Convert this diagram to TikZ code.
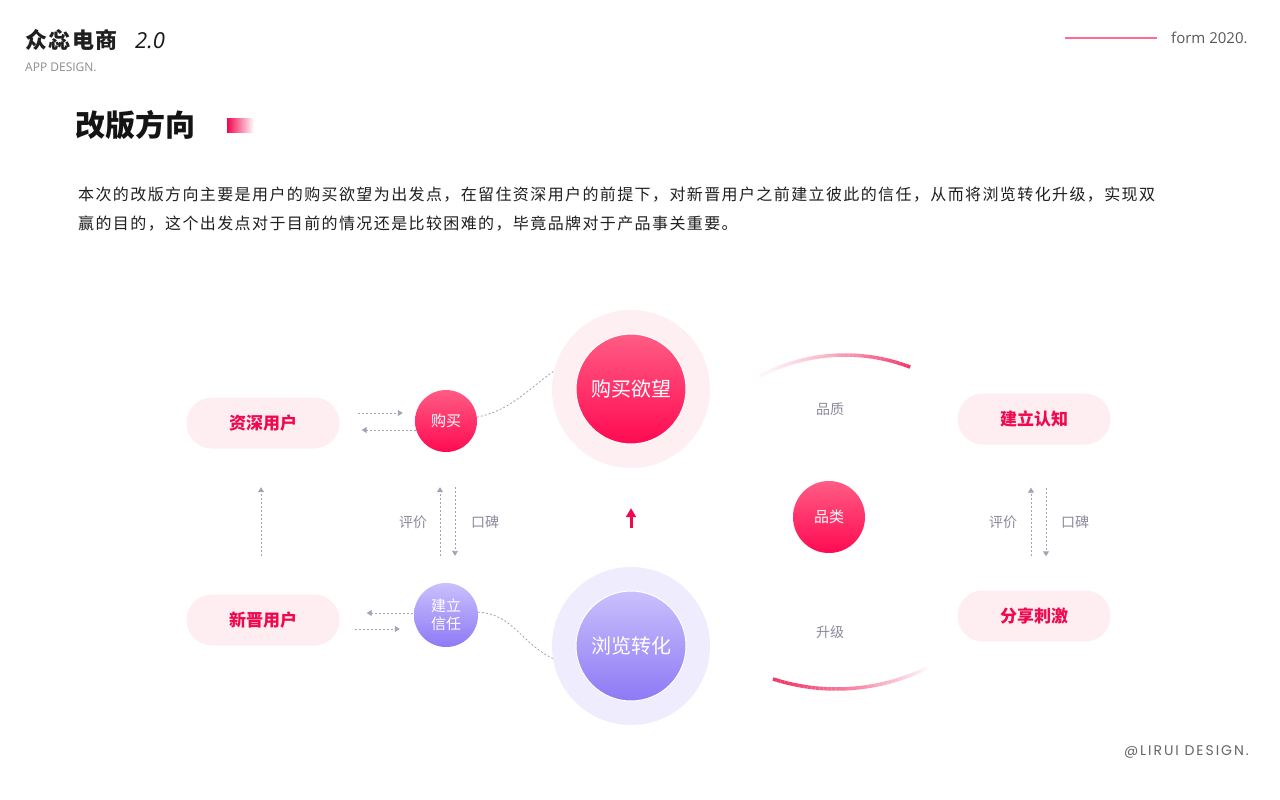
\documentclass[tikz,border=0pt]{standalone}
\usepackage{fontspec}
\setmainfont{Open Sans}
\newfontfamily\cjk{Noto Sans CJK SC}
\newfontfamily\cjkp[LetterSpace=8.7]{Noto Sans CJK SC}
\newfontfamily\cjkh[LetterSpace=7]{Noto Sans CJK SC}
\newfontfamily\popp[LetterSpace=14]{Poppins}
\usetikzlibrary{arrows.meta,calc}
\definecolor{accent}{HTML}{F0094F}
\definecolor{pillbg}{HTML}{FEEEF1}
\definecolor{dgray}{HTML}{A6A2B4}
\definecolor{lgray}{HTML}{8D899C}
\definecolor{pinkA}{HTML}{FF5C84}
\definecolor{pinkB}{HTML}{FF0A52}
\definecolor{purA}{HTML}{CAC0FC}
\definecolor{purB}{HTML}{8D79F5}
\definecolor{outerpink}{HTML}{FEEFF2}
\definecolor{outerpur}{HTML}{EFECFD}
\definecolor{arcpink}{HTML}{F23A6A}
\tikzset{
  pill/.style={rectangle, rounded corners=25.5pt, fill=pillbg, minimum width=153pt, minimum height=51pt,
    text=accent, font=\cjk\bfseries\fontsize{17}{17}\selectfont},
  pinkball/.style={circle, top color=pinkA, bottom color=pinkB, text=white, inner sep=0pt},
  purball/.style={circle, top color=purA, bottom color=purB, text=white, inner sep=0pt},
  darrow/.style={draw=dgray, dash pattern=on 2pt off 2pt, line width=0.9pt, -{Triangle[length=5pt,width=6pt]}},
  dline/.style={draw=dgray, dash pattern=on 2pt off 2pt, line width=0.8pt},
  glabel/.style={text=lgray, font=\cjk\fontsize{14}{14}\selectfont},
}
\begin{document}
\begin{tikzpicture}[x=1pt,y=-1pt]
\fill[white] (0,0) rectangle (1280,800);
\useasboundingbox (0,0) rectangle (1280,800);

% header
\node[anchor=west, inner sep=0pt, font=\cjkh\bfseries\fontsize{22}{22}\selectfont, text=black!88] (brand) at (25,40) {众惢电商};
\node[anchor=west, inner sep=0pt, font=\itshape\fontsize{22}{22}\selectfont, text=black!90] (ver) at (135,41) {2.0};
\node[anchor=west, inner sep=0pt, font=\fontsize{12}{12}\selectfont, text=black!45] (app) at (25,67) {APP DESIGN.};
\coordinate (ln1) at (1065,38);
\coordinate (ln2) at (1157,38);
\draw[line width=1.6pt, draw=pinkA!90] (ln1) -- (ln2);
\node[anchor=west, inner sep=0pt, font=\fontsize{15}{15}\selectfont, text=black!65] (form) at (1171,38) {form 2020.};

% section title
\node[anchor=west, inner sep=0pt, font=\cjk\bfseries\fontsize{30}{30}\selectfont, text=black!92] (title) at (75,125) {改版方向};
\shade[left color=accent, right color=white] (227,118) rectangle (254,132);

% paragraph
\node[anchor=west, inner sep=0pt, font=\cjkp\fontsize{16}{16}\selectfont, text=black!88] (p1) at (78,195)
 {本次的改版方向主要是用户的购买欲望为出发点，在留住资深用户的前提下，对新晋用户之前建立彼此的信任，从而将浏览转化升级，实现双};
\node[anchor=west, inner sep=0pt, font=\cjkp\fontsize{16}{16}\selectfont, text=black!88] (p2) at (78,224)
 {赢的目的，这个出发点对于目前的情况还是比较困难的，毕竟品牌对于产品事关重要。};

% pills
\node[pill] (senior) at (263,423) {资深用户};
\node[pill] (newu) at (263,620) {新晋用户};
\node[pill] (cog) at (1034,419) {建立认知};
\node[pill] (share) at (1034,616) {分享刺激};

% big circles
\node[circle, fill=outerpink, minimum size=158pt, inner sep=0pt] (bigbuyo) at (631,389) {};
\node[pinkball, draw=white, line width=1pt, minimum size=110pt, font=\cjk\fontsize{20}{20}\selectfont] (bigbuy) at (631,389) {购买欲望};
\node[circle, fill=outerpur, minimum size=158pt, inner sep=0pt] (browseo) at (631,646) {};
\node[purball, draw=white, line width=1pt, minimum size=110pt, font=\cjk\fontsize{20}{20}\selectfont] (browse) at (631,646) {浏览转化};

% small circles
\node[pinkball, minimum size=62pt, font=\cjk\fontsize{15}{15}\selectfont] (buy) at (446,421) {购买};
\node[purball, minimum size=64pt, font=\cjk\fontsize{15}{18}\selectfont, align=center] (trust) at (446,615) {建立\\信任};
\node[pinkball, minimum size=72pt, font=\cjk\fontsize{15}{15}\selectfont] (cat) at (829,517) {品类};

% dashed connectors
\draw[darrow] ($(senior.east)+(18.5,-10)$) -- ($(buy.west)+(-12,-8)$);
\draw[darrow] ($(buy.west)+(1,9)$) -- ($(senior.east)+(22,7)$);
\draw[darrow] ($(trust.west)+(-1,-2)$) -- ($(newu.east)+(27,-7)$);
\draw[darrow] ($(newu.east)+(15,9)$) -- ($(trust.west)+(-14,14)$);
\draw[darrow] ($(newu.north)+(-2,-38.5)$) -- ($(senior.south)+(-2,38.5)$);
\draw[darrow] ($(trust.north)+(-6,-27)$) -- ($(buy.south)+(-6,35)$);
\draw[darrow] ($(buy.south)+(9,35)$) -- ($(trust.north)+(9,-27)$);
\draw[darrow] ($(share.north)+(-3,-34)$) -- ($(cog.south)+(-3,43)$);
\draw[darrow] ($(cog.south)+(12,43)$) -- ($(share.north)+(12,-34)$);

\draw[dline] (buy.7) to[out=12,in=215] (bigbuyo.167);
\draw[dline] (trust.5) to[out=-2,in=155] (browseo.189);

% red arrow
\draw[accent, line width=3pt, -{Triangle[length=9pt,width=10pt]}, shorten <=39pt, shorten >=40pt] (browseo.north) -- (bigbuyo.south);

% labels
\node[glabel] (l1) at (413,522) {评价};
\node[glabel] (l2) at (485,522) {口碑};
\node[glabel] (l3) at (1003,522) {评价};
\node[glabel] (l4) at (1075,522) {口碑};
\node[glabel] (l5) at (830,409) {品质};
\node[glabel] (l6) at (830,632) {升级};

% gradient arcs
\foreach \i in {0,...,39}{
  \pgfmathsetmacro{\aa}{117.8-\i*(117.8-69)/40}
  \pgfmathsetmacro{\ab}{117.8-(\i+1)*(117.8-69)/40}
  \pgfmathsetmacro{\op}{0.04+0.96*(\i/39)^1.3}
  \draw[arcpink, line width=3.5pt, draw opacity=\op] ({845+182*cos(\aa)},{537-182*sin(\aa)}) -- ({845+182*cos(\ab)},{537-182*sin(\ab)});
}
\foreach \i in {0,...,39}{
  \pgfmathsetmacro{\aa}{-108+\i*(108-63.8)/40}
  \pgfmathsetmacro{\ab}{-108+(\i+1)*(108-63.8)/40}
  \pgfmathsetmacro{\op}{1-0.96*(\i/39)^1.3}
  \draw[arcpink, line width=3.5pt, draw opacity=\op] ({836.4+205.4*cos(\aa)},{483.6-205.4*sin(\aa)}) -- ({836.4+205.4*cos(\ab)},{483.6-205.4*sin(\ab)});
}

% footer
\node[anchor=east, inner sep=0pt, font=\popp\fontsize{14}{14}\selectfont, text=black!60] (foot) at (1249,752) {@LIRUI DESIGN.};
\end{tikzpicture}
\end{document}
